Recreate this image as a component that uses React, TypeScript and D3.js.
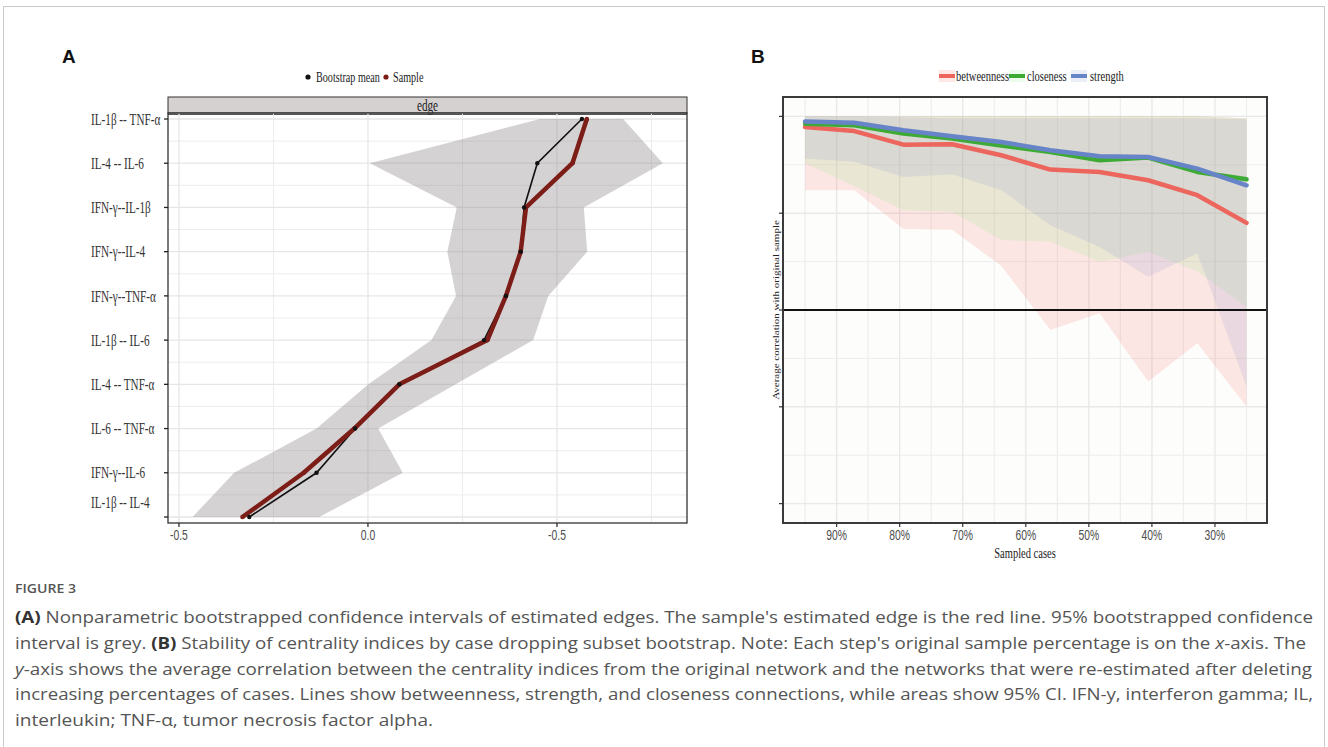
import * as d3 from 'd3';
import React from 'react';

// ---- Panel A data (edge weights, bootstrapped CI) ----
const edges = [
  'IL-1β -- TNF-α',
  'IL-4 -- IL-6',
  'IFN-γ--IL-1β',
  'IFN-γ--IL-4',
  'IFN-γ--TNF-α',
  'IL-1β -- IL-6',
  'IL-4 -- TNF-α',
  'IL-6 -- TNF-α',
  'IFN-γ--IL-6',
  'IL-1β -- IL-4',
];
const sampleEdge = [0.579, 0.541, 0.418, 0.404, 0.365, 0.316, 0.083, -0.036, -0.17, -0.332];
const bootMean = [0.566, 0.448, 0.413, 0.404, 0.365, 0.307, 0.083, -0.034, -0.136, -0.314];
const ciLow = [0.455, 0.005, 0.235, 0.21, 0.233, 0.168, 0.001, -0.136, -0.354, -0.464];
const ciHigh = [0.675, 0.78, 0.571, 0.58, 0.477, 0.437, 0.232, 0.027, 0.092, -0.129];
const xTicksA = [-0.5, 0, 0.5];
const xTickLabelsA = ['-0.5', '0.0', '-0.5'];

// ---- Panel B data (case-dropping bootstrap) ----
const sampledCases = [0.95, 0.872, 0.794, 0.717, 0.639, 0.561, 0.483, 0.406, 0.328, 0.25];
const betweenness = [0.945, 0.924, 0.854, 0.856, 0.799, 0.725, 0.713, 0.67, 0.593, 0.45];
const closeness = [0.962, 0.954, 0.911, 0.885, 0.85, 0.816, 0.773, 0.787, 0.713, 0.675];
const strength = [0.974, 0.967, 0.928, 0.897, 0.868, 0.825, 0.794, 0.79, 0.73, 0.644];
const betweennessLow = [0.619, 0.619, 0.418, 0.414, 0.228, -0.103, -0.017, -0.369, -0.172, -0.498];
const closenessLow = [0.756, 0.64, 0.515, 0.507, 0.361, 0.352, 0.249, 0.3, 0.2, 0.017];
const strengthLow = [0.782, 0.765, 0.687, 0.701, 0.619, 0.438, 0.326, 0.172, 0.292, -0.395];
const betweennessHigh = [1, 1, 1, 1, 1, 1, 1, 1, 1, 0.99];
const closenessHigh = [1, 1, 1, 1, 1, 1, 1, 1, 1, 0.99];
const strengthHigh = [1, 1, 0.995, 0.99, 0.99, 0.99, 0.99, 0.99, 0.99, 0.985];
const xTicksB = [0.9, 0.8, 0.7, 0.6, 0.5, 0.4, 0.3];
const xTickLabelsB = ['90%', '80%', '70%', '60%', '50%', '40%', '30%'];
const yTicksB = [-1, -0.5, 0, 0.5, 1];

const SERIF = '"Liberation Serif", "Times New Roman", serif';
const SANS = '"Liberation Sans", Arial, sans-serif';
const CAP = '"Open Sans", "Noto Sans", sans-serif';
const SQ = 0.74; // the chart images are squeezed horizontally

const CText = ({ x, y, k = SQ, anchor = 'start', size, family = SERIF, fill = '#333', children, dy = '0.35em' }: any) => (
  <text transform={`translate(${x},${y}) scale(${k},1)`} textAnchor={anchor} fontSize={size} fontFamily={family} fill={fill} dy={dy}>
    {children}
  </text>
);

const PanelA = () => {
  const left = 168, right = 687, top = 113, bottom = 523;
  const x = d3.scaleLinear().domain([-0.529, 0.844]).range([left, right]);
  const y = d3.scalePoint<string>().domain(edges).range([119, 517]);
  const step = y.step();

  const rows = edges.map((e, i) => ({ e, s: sampleEdge[i], b: bootMean[i], lo: ciLow[i], hi: ciHigh[i] }));
  const area = d3.area<any>().y((d) => y(d.e)!).x0((d) => x(d.lo)).x1((d) => x(d.hi));
  const line = (key: string) => d3.line<any>().x((d) => x(d[key])).y((d) => y(d.e)!)(rows) as string;

  const minorX = [-0.25, 0.25, 0.75];
  const minorY = edges.slice(1).map((e) => y(e)! - step / 2);

  return (
    <g>
      <text x={62} y={63} fontFamily={SANS} fontWeight="bold" fontSize={19} fill="#111">A</text>
      {/* legend */}
      <circle cx={308} cy={77} r={2.6} fill="#111" />
      <CText x={316} y={77} size={14.5} k={0.7} fill="#222">Bootstrap mean</CText>
      <circle cx={386} cy={77} r={2.6} fill="#7d1d18" />
      <CText x={393} y={77} size={14.5} k={0.7} fill="#222">Sample</CText>

      {/* strip */}
      <rect x={left} y={97} width={right - left} height={16} fill="#d5d1d1" stroke="#333" strokeWidth={1} />
      <line x1={left} x2={right} y1={114.5} y2={114.5} stroke="#555" strokeWidth={1} />
      <CText x={(left + right) / 2} y={105} anchor="middle" size={16} k={0.7} fill="#222">edge</CText>

      {/* grid */}
      {minorY.map((v, i) => <line key={'my' + i} x1={left} x2={right} y1={v} y2={v} stroke="#ececec" strokeWidth={1} />)}
      {minorX.map((v) => <line key={'mx' + v} x1={x(v)} x2={x(v)} y1={top} y2={bottom} stroke="#ececec" strokeWidth={1} />)}
      {edges.map((e) => <line key={'gy' + e} x1={left} x2={right} y1={y(e)} y2={y(e)} stroke="#e6e6e6" strokeWidth={1.3} />)}
      {xTicksA.map((v) => <line key={'gx' + v} x1={x(v)} x2={x(v)} y1={top} y2={bottom} stroke="#e6e6e6" strokeWidth={1.3} />)}

      {/* CI ribbon */}
      <path d={area(rows) as string} fill="#8f8a8a" fillOpacity={0.38} />

      {/* lines */}
      <path d={line('b')} fill="none" stroke="#111" strokeWidth={1.6} />
      <path d={line('s')} fill="none" stroke="#7d1d18" strokeWidth={4.5} strokeLinejoin="round" />
      {rows.map((d) => <circle key={'s' + d.e} cx={x(d.s)} cy={y(d.e)} r={2.3} fill="#7d1d18" />)}
      {rows.map((d) => <circle key={'b' + d.e} cx={x(d.b)} cy={y(d.e)} r={2.2} fill="#111" />)}

      {/* panel border */}
      <rect x={left} y={top} width={right - left} height={bottom - top} fill="none" stroke="#333" strokeWidth={1.3} />

      {/* y axis */}
      {edges.map((e, i) => (
        <g key={'yl' + e}>
          <line x1={164} x2={left} y1={y(e)} y2={y(e)} stroke="#222" strokeWidth={1.3} />
          <CText x={91} y={y(e)! - (i === edges.length - 1 ? 15 : 0)} size={16} fill="#333" k={0.7}>{e}</CText>
        </g>
      ))}
      {/* x axis */}
      {xTicksA.map((v, i) => (
        <g key={'xt' + v}>
          <line x1={x(v)} x2={x(v)} y1={bottom} y2={bottom + 4} stroke="#222" strokeWidth={1.2} />
          <CText x={x(v)} y={535} anchor="middle" size={14} family={SANS} fill="#4d4d4d">{xTickLabelsA[i]}</CText>
        </g>
      ))}
    </g>
  );
};

const seriesB = [
  { name: 'betweenness', vals: betweenness, lo: betweennessLow, hi: betweennessHigh, line: '#ec665e', fill: 'rgb(248,118,109)', op: 0.17 },
  { name: 'closeness', vals: closeness, lo: closenessLow, hi: closenessHigh, line: '#3daa35', fill: 'rgb(147,232,140)', op: 0.17 },
  { name: 'strength', vals: strength, lo: strengthLow, hi: strengthHigh, line: '#6884c8', fill: 'rgb(130,140,200)', op: 0.15 },
];

const PanelB = () => {
  const left = 783, right = 1267, top = 97, bottom = 523;
  const x = d3.scaleLinear().domain([0.985, 0.2175]).range([left, right]);
  const y = d3.scaleLinear().domain([-1.1, 1.1]).range([bottom, top]);
  const minorX = [0.95, 0.85, 0.75, 0.65, 0.55, 0.45, 0.35, 0.25];
  const minorY = [-0.75, -0.25, 0.25, 0.75];

  const area = d3.area<number>().x((_, i) => x(sampledCases[i]));
  const line = d3.line<number>().x((_, i) => x(sampledCases[i])).y((v) => y(v));

  const legendX = [939, 1009, 1071];
  const legendTextX = [956, 1027, 1090];

  return (
    <g>
      <text x={751} y={63} fontFamily={SANS} fontWeight="bold" fontSize={19} fill="#111">B</text>
      {/* legend */}
      {seriesB.map((s, i) => (
        <g key={'lg' + s.name}>
          <rect x={legendX[i]} y={70} width={16} height={12} fill={s.fill} fillOpacity={s.op} />
          <line x1={legendX[i]} x2={legendX[i] + 16} y1={76} y2={76} stroke={s.line} strokeWidth={4} />
          <CText x={legendTextX[i]} y={76} size={15} k={0.7} fill="#222">{s.name}</CText>
        </g>
      ))}

      <rect x={left} y={top} width={right - left} height={bottom - top} fill="#fdfdfc" />
      {/* grid */}
      {minorY.map((v) => <line key={'my' + v} x1={left} x2={right} y1={y(v)} y2={y(v)} stroke="#eeeeee" strokeWidth={1} />)}
      {minorX.map((v) => <line key={'mx' + v} x1={x(v)} x2={x(v)} y1={top} y2={bottom} stroke="#eeeeee" strokeWidth={1.2} />)}
      {yTicksB.map((v) => <line key={'gy' + v} x1={left} x2={right} y1={y(v)} y2={y(v)} stroke="#e9e9e9" strokeWidth={1.4} />)}
      {xTicksB.map((v) => <line key={'gx' + v} x1={x(v)} x2={x(v)} y1={top} y2={bottom} stroke="#e9e9e9" strokeWidth={1.4} />)}

      {/* ribbons */}
      {seriesB.map((s) => (
        <path key={'rb' + s.name}
          d={area.y0((_, i) => y(s.lo[i])).y1((_, i) => y(s.hi[i]))(s.vals) as string}
          fill={s.fill} fillOpacity={s.op} />
      ))}
      {/* zero line */}
      <line x1={left} x2={right} y1={y(0)} y2={y(0)} stroke="#111" strokeWidth={2} />
      {/* lines */}
      {seriesB.map((s) => (
        <path key={'ln' + s.name} d={line(s.vals) as string} fill="none" stroke={s.line} strokeWidth={4.5} strokeLinecap="round" strokeLinejoin="round" />
      ))}

      <rect x={left} y={top} width={right - left} height={bottom - top} fill="none" stroke="#3a3a3a" strokeWidth={2} />

      {/* axes */}
      {yTicksB.map((v) => <line key={'yt' + v} x1={left - 4} x2={left} y1={y(v)} y2={y(v)} stroke="#333" strokeWidth={1.2} />)}
      {xTicksB.map((v, i) => (
        <g key={'xt' + v}>
          <line x1={x(v)} x2={x(v)} y1={bottom} y2={bottom + 4} stroke="#333" strokeWidth={1.2} />
          <CText x={x(v)} y={535} anchor="middle" size={14} family={SANS} fill="#4d4d4d">{xTickLabelsB[i]}</CText>
        </g>
      ))}
      <CText x={(left + right) / 2} y={553} anchor="middle" size={15} k={0.7} fill="#222">Sampled cases</CText>
      <text transform={`translate(776,${y(0)}) rotate(-90) scale(1,${SQ})`} textAnchor="middle" fontFamily={SERIF} fontSize={11} fill="#222" dy="0.35em">
        Average correlation with original sample
      </text>
    </g>
  );
};

const Caption = () => {
  const lines: any[] = [
    [{ t: '(A)', b: true }, { t: ' Nonparametric bootstrapped confidence intervals of estimated edges. The sample\'s estimated edge is the red line. 95% bootstrapped confidence' }],
    [{ t: 'interval is grey. ' }, { t: '(B)', b: true }, { t: ' Stability of centrality indices by case dropping subset bootstrap. Note: Each step\'s original sample percentage is on the ' }, { t: 'x', i: true }, { t: '-axis. The' }],
    [{ t: 'y', i: true }, { t: '-axis shows the average correlation between the centrality indices from the original network and the networks that were re-estimated after deleting' }],
    [{ t: 'increasing percentages of cases. Lines show betweenness, strength, and closeness connections, while areas show 95% CI. IFN-y, interferon gamma; IL,' }],
    [{ t: 'interleukin; TNF-α, tumor necrosis factor alpha.' }],
  ];
  const widths = [1298, 1291, 1297, 1298, 418];
  return (
    <g fontFamily={CAP}>
      <text x={15} y={593} fontSize={12.5} fill="#555" fontWeight={600} textLength={61} lengthAdjust="spacingAndGlyphs">FIGURE 3</text>
      {lines.map((parts, li) => (
        <text key={li} x={15} y={623 + li * 25.8} fontSize={16} fill="#555" textLength={widths[li]} lengthAdjust="spacingAndGlyphs">
          {parts.map((p: any, pi: number) => (
            <tspan key={pi} fontWeight={p.b ? 700 : 400} fontStyle={p.i ? 'italic' : 'normal'} fill={p.b ? '#333' : '#555'}>{p.t}</tspan>
          ))}
        </text>
      ))}
    </g>
  );
};

export default function App() {
  return (
    <svg width={1328} height={747} style={{ position: 'absolute', left: 0, top: 0, background: '#fff' }}>
      <rect x={0} y={0} width={1328} height={747} fill="#fff" />
      <rect x={3.5} y={6.5} width={1321} height={800} fill="none" stroke="#c9c9c9" strokeWidth={1} />
      <PanelA />
      <PanelB />
      <Caption />
    </svg>
  );
}
